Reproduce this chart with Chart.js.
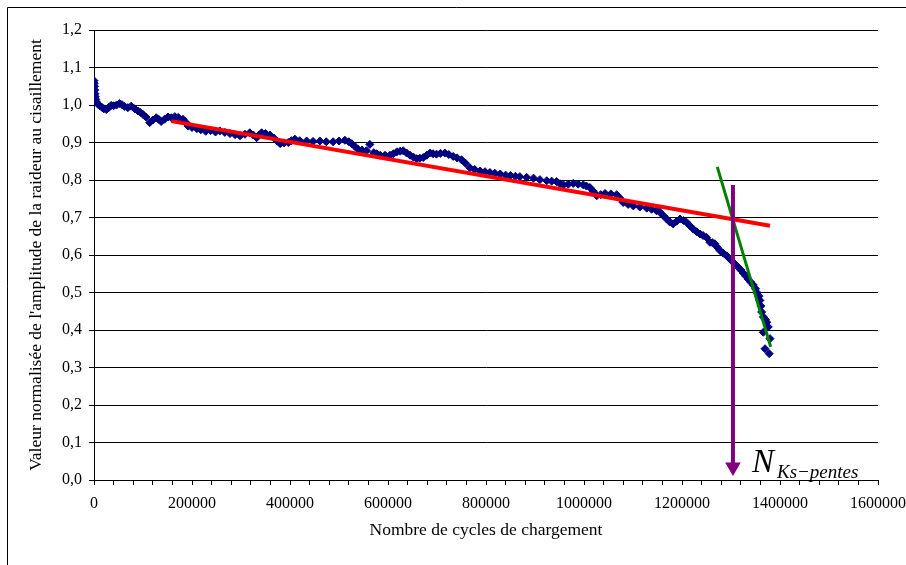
<!DOCTYPE html>
<html lang="fr">
<head>
  <meta charset="UTF-8">
  <title>Raideur au cisaillement</title>
  <script src="https://cdn.jsdelivr.net/npm/chart.js"></script>
  <style>
    body { margin: 0; background: #fff; }
  </style>
</head>
<body>
  <canvas id="graphe" width="906" height="565"></canvas>

  <script>
    const cycles = [
      0, 500, 1000, 1500, 2000, 2500, 3500, 5000, 8000, 12000,
      16000, 20000, 25000, 30000, 35000, 40000, 46000, 52000, 57000, 62500,
      69000, 76000, 83000, 90000, 95000, 100000, 106000, 113600, 120000, 127000,
      132000, 137000, 144000, 151000, 158000, 165000, 172000, 181600, 188000, 192000,
      200000, 210000, 218000, 228000, 238000, 248000, 257000, 267000, 277500, 288000,
      298000, 308000, 318000, 325000, 332000, 337000, 342000, 350000, 359000, 367000,
      374000, 380000, 388000, 396500, 403000, 410000, 420000, 434000, 447000, 461000,
      474000, 488000, 500000, 512000, 520000, 526000, 532000, 539000, 547000, 556000,
      563000, 571000, 577000, 584000, 594000, 604000, 611000, 618000, 625000, 631000,
      638000, 645000, 652000, 658600, 665000, 672000, 679000, 686000, 692000, 699000,
      707000, 716000, 724000, 733000, 741000, 750000, 758000, 767000, 777000, 788000,
      798000, 808000, 818000, 829000, 840000, 850000, 860000, 869000, 883000, 897000,
      910000, 924000, 934000, 944000, 951000, 958000, 968000, 978000, 988000, 998600,
      1005000, 1012000, 1019000, 1026000, 1034000, 1043000, 1055000, 1066700, 1073000, 1080000,
      1090000, 1100600, 1114000, 1128000, 1138000, 1148000, 1155000, 1162000, 1168700, 1175000,
      1182000, 1189000, 1196000, 1203000, 1209600, 1216000, 1223000, 1230000, 1236700, 1243000,
      1250000, 1257000, 1262000, 1267000, 1272000, 1277500, 1284000, 1291000, 1296000, 1301000,
      1308000, 1315000, 1320000, 1325000, 1330000, 1335000, 1340000, 1345500, 1350000, 1353600,
      1357000, 1359000, 1361000, 1362600, 1366000, 1370000, 1372800, 1376000, 1366000, 1379600,
      1369400, 1378000
    ];
    const raideur = [
      1.065, 1.058, 1.05, 1.04, 1.03, 1.022, 1.015, 1.008, 1.002, 0.998,
      0.994, 0.99, 0.988, 0.993, 0.999, 0.998, 1.0, 1.004, 1.001, 0.996,
      0.993, 0.997, 0.99, 0.984, 0.98, 0.975, 0.968, 0.953, 0.96, 0.966,
      0.962, 0.956, 0.962, 0.968, 0.966, 0.969, 0.967, 0.962, 0.953, 0.944,
      0.94, 0.937, 0.934, 0.93, 0.932, 0.928, 0.931, 0.927, 0.924, 0.921,
      0.918, 0.922, 0.926, 0.92, 0.913, 0.92, 0.926, 0.924, 0.92, 0.912,
      0.904, 0.897, 0.899, 0.9, 0.905, 0.909, 0.905, 0.904, 0.903, 0.904,
      0.902, 0.902, 0.904, 0.906, 0.902, 0.897, 0.89, 0.882, 0.88, 0.878,
      0.895, 0.873, 0.87, 0.866, 0.866, 0.866, 0.87, 0.875, 0.877, 0.878,
      0.872, 0.866, 0.861, 0.857, 0.858, 0.86, 0.866, 0.872, 0.87, 0.869,
      0.871, 0.872, 0.868, 0.863, 0.859, 0.854, 0.845, 0.833, 0.828, 0.824,
      0.822, 0.82, 0.818, 0.816, 0.813, 0.812, 0.81, 0.809, 0.807, 0.805,
      0.801, 0.798, 0.797, 0.796, 0.79, 0.787, 0.789, 0.791, 0.789, 0.787,
      0.784, 0.78, 0.77, 0.758, 0.761, 0.764, 0.763, 0.761, 0.752, 0.74,
      0.735, 0.731, 0.728, 0.725, 0.722, 0.718, 0.714, 0.705, 0.696, 0.688,
      0.683, 0.69, 0.696, 0.692, 0.687, 0.678, 0.669, 0.662, 0.656, 0.652,
      0.647, 0.634, 0.633, 0.63, 0.621, 0.612, 0.605, 0.598, 0.592, 0.585,
      0.576, 0.567, 0.56, 0.552, 0.544, 0.536, 0.528, 0.52, 0.51, 0.499,
      0.49, 0.479, 0.464, 0.448, 0.435, 0.428, 0.421, 0.408, 0.394, 0.377,
      0.35, 0.337
    ];

    // droites des deux pentes et fleche N
    const penteRougeX = [157800, 1379600];
    const penteRougeY = [0.957, 0.678];
    const penteVerteX = [1272000, 1381000];
    const penteVerteY = [0.835, 0.355];
    const flecheX = [1304000, 1304000];
    const flecheY = [0.787, 0.035];

    const police = "'Liberation Serif', 'Times New Roman', serif";

    function points(xs, ys) {
      return xs.map((x, i) => ({ x: x, y: ys[i] }));
    }

    // cadre exterieur (haut et gauche seulement visibles)
    const cadre = {
      id: 'cadre',
      beforeDraw(chart) {
        const c = chart.ctx;
        c.save();
        c.fillStyle = '#fff';
        c.fillRect(0, 0, chart.width, chart.height);
        c.strokeStyle = '#000';
        c.lineWidth = 1;
        c.beginPath();
        c.moveTo(7.5, chart.height);
        c.lineTo(7.5, 7.5);
        c.lineTo(chart.width, 7.5);
        c.stroke();
        c.restore();
      }
    };

    // libelle N_{Ks-pentes} a cote de la fleche
    const libelle = {
      id: 'libelle',
      afterDatasetsDraw(chart) {
        const c = chart.ctx;
        const px = chart.scales.x.getPixelForValue(flecheX[0]);
        const py = chart.scales.y.getPixelForValue(0);
        c.save();
        c.fillStyle = '#000';
        c.textBaseline = 'alphabetic';
        c.font = 'italic 33px ' + police;
        c.fillText('N', px + 19, py - 8);
        const w = c.measureText('N').width;
        c.font = 'italic 19px ' + police;
        c.fillText('Ks\u2212pentes', px + 19 + w + 3, py - 2);
        c.restore();
      }
    };

    const ctx = document.getElementById('graphe').getContext('2d');

    new Chart(ctx, {
      type: 'scatter',
      data: {
        datasets: [
          {
            data: points(cycles, raideur),
            backgroundColor: '#000080',
            borderColor: '#000080',
            borderWidth: 1,
            pointStyle: 'rectRot',
            pointRadius: 4,
            order: 5
          },
          {
            data: points(penteRougeX, penteRougeY),
            showLine: true,
            borderColor: '#ff0000',
            borderWidth: 4,
            pointRadius: 0,
            order: 4
          },
          {
            data: points(penteVerteX, penteVerteY),
            showLine: true,
            borderColor: '#008000',
            borderWidth: 3,
            pointRadius: 0,
            order: 3
          },
          {
            data: points(flecheX, flecheY),
            showLine: true,
            borderColor: '#800080',
            borderWidth: 4,
            pointRadius: [0, 9],
            pointStyle: 'triangle',
            rotation: 180,
            pointBackgroundColor: '#800080',
            pointBorderColor: '#800080',
            pointBorderWidth: 0,
            order: 2
          }
        ]
      },
      options: {
        responsive: false,
        animation: false,
        layout: { padding: { top: 30, right: 28, left: 0, bottom: 0 } },
        plugins: {
          legend: { display: false },
          tooltip: { enabled: false }
        },
        scales: {
          x: {
            type: 'linear',
            min: 0,
            max: 1600000,
            afterFit: s => { s.height = 85; s.paddingLeft = 0; s.paddingRight = 0; },
            border: { display: true, color: '#000', width: 1 },
            grid: { drawOnChartArea: false, color: '#000', tickLength: 5 },
            ticks: {
              stepSize: 40000,
              autoSkip: false,
              maxRotation: 0,
              padding: 9,
              color: '#000',
              font: { family: police, size: 16 },
              callback: v => (v % 200000 === 0 ? String(v) : '')
            },
            title: {
              display: true,
              text: 'Nombre de cycles de chargement',
              color: '#000',
              font: { family: police, size: 17.5 },
              padding: { top: 24, bottom: 24 }
            }
          },
          y: {
            min: 0,
            max: 1.2,
            afterFit: s => { s.width = 94; s.paddingTop = 0; s.paddingBottom = 0; },
            border: { display: true, color: '#000', width: 1 },
            grid: { color: '#000', tickLength: 5 },
            ticks: {
              stepSize: 0.1,
              padding: 7,
              color: '#000',
              font: { family: police, size: 16 },
              callback: v => v.toFixed(1).replace('.', ',')
            },
            title: {
              display: true,
              text: "Valeur normalisée de l'amplitude de la raideur au cisaillement",
              color: '#000',
              font: { family: police, size: 17.5 },
              padding: { top: 26, bottom: 0 }
            }
          }
        }
      },
      plugins: [cadre, libelle]
    });
  </script>
</body>
</html>
